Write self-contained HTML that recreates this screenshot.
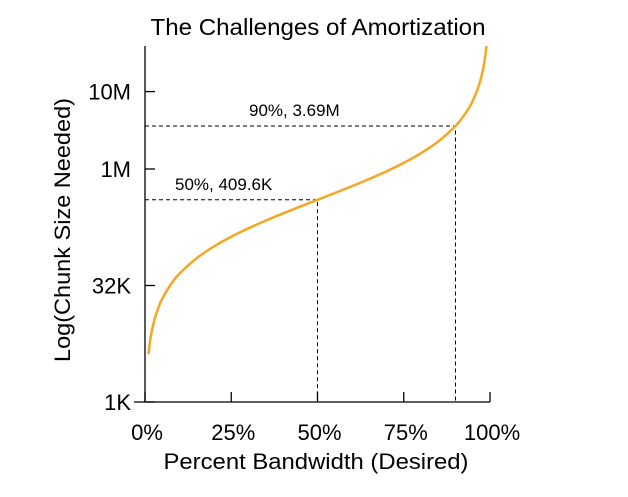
<!DOCTYPE html>
<html><head><meta charset="utf-8"><style>
body{margin:0;background:#fff;}
text{font-family:"Liberation Sans",Arial,sans-serif;fill:#000;}
</style></head><body>
<svg width="628" height="492">
<g id="g"></g>
</svg>
<script>
const pct = [0.01,0.015,0.02,0.03,0.04,0.05,0.075,0.1,0.15,0.2,0.25,0.3,0.35,0.4,0.45,0.5,0.55,0.6,0.65,0.7,0.75,0.8,0.85,0.9,0.93,0.95,0.97,0.98,0.985,0.99];
const chunkK = [4.14,6.24,8.36,12.67,17.07,21.56,33.2,45.5,72.3,102.4,136.5,175.5,220.6,273.1,335.1,409.6,500.6,614.4,760.7,955.7,1228.8,1638.4,2321,3686,5442,7782,13244,20070,26880,40550];
const xTicks = [0,0.25,0.5,0.75,1];
const xTickLabels = ["0%","25%","50%","75%","100%"];
const yTicksK = [1,32,1024,10240];
const yTickLabels = ["1K","32K","1M","10M"];
const notes = [{p:0.5,k:409.6,label:"50%, 409.6K",tx:175,ty:190},{p:0.9,k:3686,label:"90%, 3.69M",tx:249,ty:116}];
const X0=145,X1=490,Y1K=402,PER=23.3,TOP=46;
const xs=p=>X0+p*(X1-X0);
const ys=k=>Y1K-Math.log2(k)*PER;
const NS="http://www.w3.org/2000/svg";
const g=document.getElementById('g');
function mk(t,a,txt){const e=document.createElementNS(NS,t);for(const k in a)e.setAttribute(k,a[k]);if(txt!=null)e.textContent=txt;g.appendChild(e);return e;}
let e;
e=mk('text',{x:318,y:35,'font-size':23,'text-anchor':'middle',textLength:335,lengthAdjust:'spacingAndGlyphs'},'The Challenges of Amortization');


e=mk('line',{x1:X0,y1:TOP,x2:X0,y2:Y1K,stroke:'#000','stroke-width':1.3});


e=mk('line',{x1:134,y1:Y1K,x2:X1,y2:Y1K,stroke:'#000','stroke-width':1.3});


xTicks.forEach((p,i)=>{
 e=mk('line',{x1:xs(p),y1:Y1K,x2:xs(p),y2:Y1K-10,stroke:'#000','stroke-width':1.3});
 
 
 e=mk('text',{x:xs(p)+2,y:Y1K+38,'font-size':22,'text-anchor':'middle'},xTickLabels[i]);
 
 
});
yTicksK.forEach((k,i)=>{
 e=mk('line',{x1:X0,y1:ys(k),x2:X0+10,y2:ys(k),stroke:'#000','stroke-width':1.3});
 
 
 e=mk('text',{x:X0-14,y:ys(k)+8,'font-size':22,'text-anchor':'end'},yTickLabels[i]);
 
 
});
e=mk('text',{x:316,y:469,'font-size':22,'text-anchor':'middle',textLength:305,lengthAdjust:'spacingAndGlyphs'},'Percent Bandwidth (Desired)');


e=mk('text',{x:0,y:0,'font-size':22,'text-anchor':'middle',textLength:264,lengthAdjust:'spacingAndGlyphs',transform:'translate(70,230) rotate(-90)'},'Log(Chunk Size Needed)');


notes.forEach(n=>{
 e=mk('path',{d:`M${X0},${ys(n.k)}H${xs(n.p)}V${Y1K}`,fill:'none',stroke:'#000','stroke-width':1,'stroke-dasharray':'4,3'});
 
 
 e=mk('text',{x:n.tx,y:n.ty,'font-size':17},n.label);
 
 
});
const cp=document.createElementNS(NS,'clipPath');cp.setAttribute('id','c');
const r=document.createElementNS(NS,'rect');r.setAttribute('x',0);r.setAttribute('y',TOP);r.setAttribute('width',628);r.setAttribute('height',400);cp.appendChild(r);g.appendChild(cp);
const P=pct.map((p,i)=>[xs(p),ys(chunkK[i])]);
let d=`M${P[0][0]},${P[0][1]}`;
for(let i=0;i<P.length-1;i++){
 const p0=P[Math.max(0,i-1)],p1=P[i],p2=P[i+1],p3=P[Math.min(P.length-1,i+2)];
 d+=` C${p1[0]+(p2[0]-p0[0])/6},${p1[1]+(p2[1]-p0[1])/6} ${p2[0]-(p3[0]-p1[0])/6},${p2[1]-(p3[1]-p1[1])/6} ${p2[0]},${p2[1]}`;
}
e=mk('path',{d:d,fill:'none',stroke:'#f5a623','stroke-width':2.5,'clip-path':'url(#c)'});


</script>
</body></html>
